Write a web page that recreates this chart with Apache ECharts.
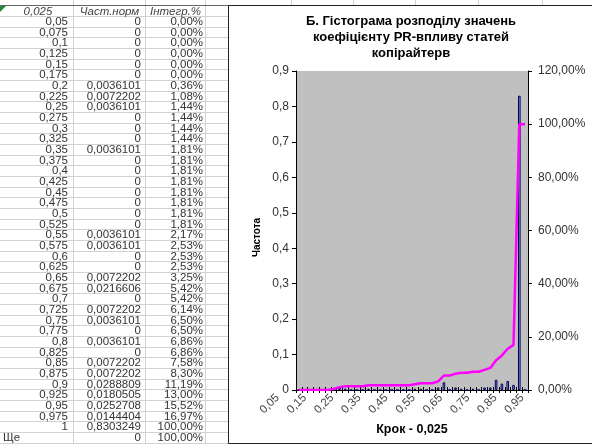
<!DOCTYPE html>
<html>
<head>
<meta charset="utf-8">
<script src="https://cdn.jsdelivr.net/npm/echarts@6/dist/echarts.min.js"></script>
<style>
  html, body { margin: 0; padding: 0; background: #fff; }
  #main { width: 592px; height: 446px; }
</style>
</head>
<body>
<div id="main"></div>
<script>
// Histogram bins (step 0,025) and the overflow bin
const steps = ['0,05', '0,075', '0,1', '0,125', '0,15', '0,175', '0,2', '0,225', '0,25', '0,275',
  '0,3', '0,325', '0,35', '0,375', '0,4', '0,425', '0,45', '0,475', '0,5', '0,525',
  '0,55', '0,575', '0,6', '0,625', '0,65', '0,675', '0,7', '0,725', '0,75', '0,775',
  '0,8', '0,825', '0,85', '0,875', '0,9', '0,925', '0,95', '0,975', '1', 'Ще'];

// Normalised frequency per bin
const freq = [0, 0, 0, 0, 0, 0, 0.0036101, 0.0072202, 0.0036101, 0,
  0, 0, 0.0036101, 0, 0, 0, 0, 0, 0, 0,
  0.0036101, 0.0036101, 0, 0, 0.0072202, 0.0216606, 0, 0.0072202, 0.0036101, 0,
  0.0036101, 0, 0.0072202, 0.0072202, 0.0288809, 0.0180505, 0.0252708, 0.0144404, 0.8303249, 0];

// Cumulative share, %
const cumPct = [0, 0, 0, 0, 0, 0, 0.36, 1.08, 1.44, 1.44,
  1.44, 1.44, 1.81, 1.81, 1.81, 1.81, 1.81, 1.81, 1.81, 1.81,
  2.17, 2.53, 2.53, 2.53, 3.25, 5.42, 5.42, 6.14, 6.50, 6.50,
  6.86, 6.86, 7.58, 8.30, 11.19, 13.00, 15.52, 16.97, 100.00, 100.00];

// Labels shown under the category axis
const tickLabels = ['0,05', '0,15', '0,25', '0,35', '0,45', '0,55', '0,65', '0,75', '0,85', '0,95'];

const tableHeader = ['0,025', 'Част.норм', 'Інтегр.%'];
const chartTitle = ['Б. Гістограма розподілу значень', 'коефіцієнту PR-впливу статей', 'копірайтерв'];

const FONT = '"Liberation Sans", Arial, sans-serif';
const fmtNum = v => String(v).replace('.', ',');
const fmtPct = v => v.toFixed(2).replace('.', ',') + '%';

// ---- worksheet grid with the data table ----
const rowTop = 5.5, rowH = 10.66;
const colLines = [73.5, 145.5, 205.5];
const sheetRight = 228.5;
const graphic = [];
const GRID_CLR = '#d2d2d2';
const CELL_FONT = '11.5px ' + FONT;

for (let i = 1; i <= steps.length + 1; i++) {
  const y = Math.round(rowTop + i * rowH) + 0.5;
  graphic.push({ type: 'line', silent: true, shape: { x1: 0, y1: y, x2: sheetRight, y2: y },
    style: { stroke: GRID_CLR, lineWidth: 1 } });
}
colLines.forEach(x => graphic.push({ type: 'line', silent: true,
  shape: { x1: x, y1: 0, x2: x, y2: Math.round(rowTop + (steps.length + 1) * rowH) + 0.5 },
  style: { stroke: GRID_CLR, lineWidth: 1 } }));
// column lines of the sheet visible above the chart frame
[291.5, 353.5, 415.5, 478.5, 542.5].forEach(x => graphic.push({ type: 'line', silent: true,
  shape: { x1: x, y1: 0, x2: x, y2: 5 }, style: { stroke: GRID_CLR, lineWidth: 1 } }));
// top border of the header row
graphic.push({ type: 'line', silent: true, shape: { x1: 0, y1: 5.5, x2: 592, y2: 5.5 },
  style: { stroke: '#666', lineWidth: 1 } });
// marker in the corner cell
graphic.push({ type: 'polygon', silent: true, shape: { points: [[0, 6], [6, 6], [0, 12]] },
  style: { fill: '#1f8a3c' } });

// header cells
const headerCenters = [38, 109.5, 175.5];
tableHeader.forEach((t, j) => graphic.push({ type: 'text', silent: true,
  x: headerCenters[j], y: rowTop + rowH / 2 + 1,
  style: { text: t, font: 'italic 11.5px ' + FONT, fill: '#444', align: 'center', verticalAlign: 'middle' } }));

// body cells
steps.forEach((s, i) => {
  const y = rowTop + (i + 1.5) * rowH + 0.5;
  const isNum = s !== 'Ще';
  graphic.push({ type: 'text', silent: true, x: isNum ? 68 : 3, y,
    style: { text: s, font: CELL_FONT, fill: '#333', align: isNum ? 'right' : 'left', verticalAlign: 'middle' } });
  graphic.push({ type: 'text', silent: true, x: 141, y,
    style: { text: fmtNum(freq[i]), font: CELL_FONT, fill: '#333', align: 'right', verticalAlign: 'middle' } });
  graphic.push({ type: 'text', silent: true, x: 203, y,
    style: { text: fmtPct(cumPct[i]), font: CELL_FONT, fill: '#333', align: 'right', verticalAlign: 'middle' } });
});

// chart frame
graphic.push({ type: 'rect', silent: true, shape: { x: 228.5, y: 5.5, width: 400, height: 438 },
  style: { fill: 'none', stroke: '#222', lineWidth: 1 } });

// chart title, centred over the plot
chartTitle.forEach((t, i) => graphic.push({ type: 'text', silent: true, x: 411, y: 21 + i * 16,
  style: { text: t, font: 'bold 13px ' + FONT, fill: '#000', align: 'center', verticalAlign: 'middle' } }));

const axisText = { color: '#333', fontSize: 12, fontFamily: FONT };

const option = {
  animation: false,
  backgroundColor: '#fff',
  graphic: graphic,
  grid: [
    { left: 296, top: 71, right: 64, bottom: 56, show: true, backgroundColor: '#c0c0c0',
      borderWidth: 0, containLabel: false, outerBoundsMode: 'none' },
    { left: 264, top: 71, right: 56, bottom: 56, containLabel: false, outerBoundsMode: 'none' }
  ],
  xAxis: [
    { gridIndex: 0, type: 'category', data: steps, boundaryGap: true,
      axisLine: { show: true, lineStyle: { color: '#000', width: 1 } },
      axisTick: { show: true, interval: 0, length: 3, lineStyle: { color: '#000' } },
      axisLabel: { show: false }, splitLine: { show: false },
      name: 'Крок - 0,025', nameLocation: 'middle', nameGap: 33,
      nameTextStyle: { fontFamily: FONT, fontSize: 12.5, fontWeight: 'bold', color: '#000' } },
    { gridIndex: 0, type: 'category', data: steps, position: 'bottom', offset: 0,
      axisLine: { show: false },
      axisTick: { show: true, inside: true, interval: 0, length: 3, lineStyle: { color: '#000' } },
      axisLabel: { show: false }, splitLine: { show: false } },
    { gridIndex: 1, type: 'category', data: tickLabels, boundaryGap: true,
      axisLine: { show: false }, axisTick: { show: false }, splitLine: { show: false },
      axisLabel: Object.assign({ rotate: 45, margin: 6, interval: 0 }, axisText, { fontSize: 11.5, color: '#444' }) }
  ],
  yAxis: [
    { gridIndex: 0, type: 'value', min: 0, max: 0.9, interval: 0.1,
      axisLine: { show: true, lineStyle: { color: '#000' } },
      axisTick: { show: true, length: 4, lineStyle: { color: '#000' } },
      splitLine: { show: false },
      axisLabel: Object.assign({ margin: 7,
        formatter: v => v === 0 ? '0' : String(+v.toFixed(1)).replace('.', ',') }, axisText),
      name: 'Частота', nameLocation: 'middle', nameGap: 34,
      nameTextStyle: { fontFamily: FONT, fontSize: 10, fontWeight: 'bold', color: '#000', padding: [0, 14, 0, 0] } },
    { gridIndex: 0, type: 'value', position: 'right', min: 0, max: 120, interval: 20,
      axisLine: { show: true, lineStyle: { color: '#000' } },
      axisTick: { show: true, length: 4, lineStyle: { color: '#000' } },
      splitLine: { show: false },
      axisLabel: Object.assign({ margin: 10, formatter: v => fmtPct(v) }, axisText) },
    { gridIndex: 1, type: 'value', show: false }
  ],
  series: [
    { name: 'Частота', type: 'bar', xAxisIndex: 0, yAxisIndex: 0, data: freq,
      barWidth: '45%',
      itemStyle: { color: '#9d9dcf', borderColor: '#00005e', borderWidth: 1 } },
    { name: 'Інтегр.%', type: 'line', xAxisIndex: 0, yAxisIndex: 1, data: cumPct,
      symbol: 'rect', symbolSize: 6, z: 5,
      lineStyle: { color: '#ff00ff', width: 2.5 },
      itemStyle: { color: '#ff00ff' } }
  ]
};

const chart = echarts.init(document.getElementById('main'), null, { renderer: 'canvas' });
chart.setOption(option);
</script>
</body>
</html>
